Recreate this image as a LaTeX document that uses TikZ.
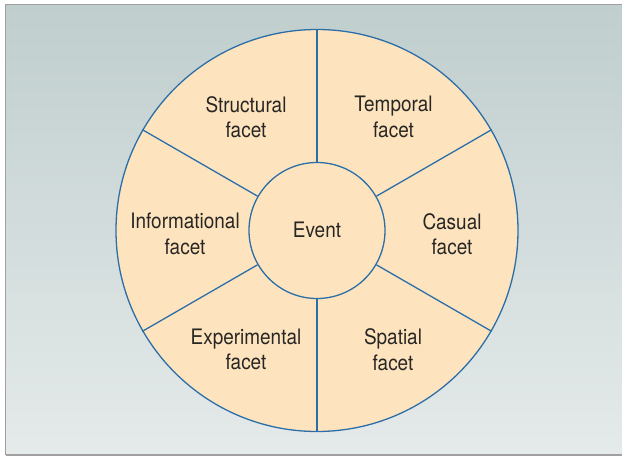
\documentclass[tikz,border=0pt]{standalone}
\usepackage{fontspec}
\setmainfont{TeX Gyre Heros}[FakeStretch=0.89]
\definecolor{bgtop}{RGB}{192,206,206}
\definecolor{bgbot}{RGB}{229,234,234}
\definecolor{framegray}{RGB}{160,160,160}
\definecolor{wedge}{RGB}{253,228,190}
\definecolor{edgeblue}{RGB}{44,110,168}
\definecolor{txt}{RGB}{40,38,36}
\tikzset{
  facetlabel/.style={align=center, text=txt, font=\fontsize{21.3}{25.5}\selectfont, inner sep=0pt},
  spoke/.style={draw=edgeblue, line width=1.3pt},
}
\begin{document}
\begin{tikzpicture}[x=1pt,y=-1pt]
\useasboundingbox (0,0) rectangle (622,457);
\shade[top color=bgtop, bottom color=bgbot] (5.5,4.5) rectangle (622,455);
\draw[framegray, line width=1.5pt] (5.5,455) -- (5.5,4.5) -- (622,4.5);
\draw[framegray, line width=1.5pt] (5.5,455) -- (622,455);
% outer circle
\coordinate (c) at (317,230.5);
\node[circle, draw=edgeblue, fill=wedge, line width=1.3pt, minimum size=402pt, inner sep=0pt] (outer) at (c) {};
\node[circle, draw=edgeblue, fill=wedge, line width=1.3pt, minimum size=136pt, inner sep=0pt] (event) at (c) {};
\foreach \a in {90,30,-30,-90,-150,150} {
  \draw[spoke] (event.\a) -- (outer.\a);
}
\node[facetlabel] (ev) at (317,230) {Event};
\node[facetlabel] (structural) at (246,117) {Structural\\facet};
\node[facetlabel] (temporal) at (393.5,117) {Temporal\\facet};
\node[facetlabel] (informational) at (185,234) {Informational\\facet};
\node[facetlabel] (casual) at (452,234) {Casual\\facet};
\node[facetlabel] (experimental) at (246,349.5) {Experimental\\facet};
\node[facetlabel] (spatial) at (393,349.5) {Spatial\\facet};
\end{tikzpicture}
\end{document}
